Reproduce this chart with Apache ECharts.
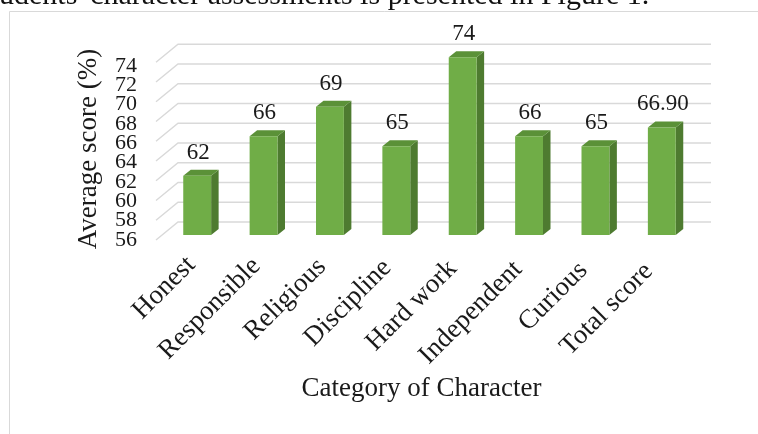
<!DOCTYPE html>
<html>
<head>
<meta charset="utf-8">
<script src="https://cdn.jsdelivr.net/npm/echarts@6/dist/echarts.min.js"></script>
<style>
  html, body { margin: 0; padding: 0; background: #fff; }
  #main { width: 758px; height: 434px; }
</style>
</head>
<body>
<div id="main"></div>
<script>
// data
const categories = ['Honest', 'Responsible', 'Religious', 'Discipline', 'Hard work', 'Independent', 'Curious', 'Total score'];
const scores = [62, 66, 69, 65, 74, 66, 65, 66.9];
const scoreLabels = ['62', '66', '69', '65', '74', '66', '65', '66.90'];
const yTicks = [56, 58, 60, 62, 64, 66, 68, 70, 72, 74];
const yMin = 56, yMax = 74, yStep = 2;

const serif = '"Liberation Serif", "Times New Roman", serif';
const textColor = '#1a1a1a';

// fake 3d look (pixels)
const depthX = 7.5, depthY = 6;
const wallFrontX = -8, wallFrontY = 5, wallBackX = 14, wallBackY = -13, wallRightX = 16;

const chart = echarts.init(document.getElementById('main'));

// back wall grid lines
function renderWall(params, api) {
  const cs = params.coordSys;
  const y = api.coord([0, api.value(1)])[1];
  return {
    type: 'polyline',
    shape: {
      points: [
        [cs.x + wallFrontX, y + wallFrontY],
        [cs.x + wallBackX, y + wallBackY],
        [cs.x + cs.width + wallRightX, y + wallBackY]
      ]
    },
    style: { stroke: '#d9d9d9', lineWidth: 1.4, fill: null }
  };
}

function renderBar(params, api) {
  const i = api.value(0);
  const top = api.coord([i, api.value(1)]);
  const base = api.coord([i, yMin]);
  const w = api.size([1, 0])[0] * 0.42;
  const x0 = top[0] - w / 2, x1 = top[0] + w / 2;
  const yt = top[1], yb = base[1];
  return {
    type: 'group',
    children: [
      { type: 'polygon', shape: { points: [[x1, yt], [x1 + depthX, yt - depthY], [x1 + depthX, yb - depthY], [x1, yb]] }, style: { fill: '#4e7b30' } },
      { type: 'polygon', shape: { points: [[x0, yt], [x0 + depthX, yt - depthY], [x1 + depthX, yt - depthY], [x1, yt]] }, style: { fill: '#5b9138' } },
      { type: 'rect', shape: { x: x0, y: yt, width: w, height: yb - yt }, style: { fill: '#70ad47' } },
      {
        type: 'text',
        style: {
          x: top[0] + 1, y: yt - 23,
          text: scoreLabels[params.dataIndex],
          fill: textColor, font: '23px ' + serif,
          align: 'center', verticalAlign: 'middle'
        }
      }
    ]
  };
}

// rotated category labels under the bars
function renderCatLabel(params, api) {
  const i = api.value(0);
  const p = api.coord([i, yMin]);
  return {
    type: 'text',
    x: p[0] - 6 - i, y: p[1] + 26 + 0.9 * i,
    rotation: Math.PI / 4,
    style: { text: categories[i], font: '27px ' + serif, fill: textColor, align: 'right', verticalAlign: 'middle' }
  };
}

// y tick labels (front edge)
function renderTick(params, api) {
  const cs = params.coordSys;
  const v = api.value(1);
  const y = api.coord([0, v])[1];
  return {
    type: 'text',
    style: { x: cs.x - 27, y: y, text: String(v), font: '22px ' + serif, fill: textColor, align: 'right', verticalAlign: 'middle' }
  };
}

const option = {
  animation: false,
  grid: [
    { left: 164, right: 63, top: 57.3, bottom: 199 },
    { left: 164, right: 63, top: 66, bottom: 194 }
  ],
  xAxis: [
    { type: 'category', gridIndex: 0, data: categories, show: false },
    { type: 'category', gridIndex: 1, data: categories, show: false }
  ],
  yAxis: [
    { type: 'value', gridIndex: 0, min: yMin, max: yMax, interval: yStep, show: false },
    { type: 'value', gridIndex: 1, min: yMin, max: yMax, interval: yStep, show: false }
  ],
  graphic: [
    { type: 'rect', shape: { x: 9.5, y: 11.5, width: 760, height: 430 }, style: { fill: null, stroke: '#d9d9d9', lineWidth: 1 } },
    {
      type: 'text', x: -21, y: -4,
      style: { text: "students' character assessments is presented in Figure 1.", font: '30px ' + serif, fill: '#111', verticalAlign: 'middle' }
    },
    {
      type: 'text', x: 89, y: 149, rotation: Math.PI / 2,
      style: { text: 'Average score (%)', font: '27px ' + serif, fill: textColor, align: 'center', verticalAlign: 'middle' }
    },
    {
      type: 'text', x: 421.5, y: 389,
      style: { text: 'Category of Character', font: '27px ' + serif, fill: textColor, align: 'center', verticalAlign: 'middle' }
    }
  ],
  series: [
    {
      type: 'custom', xAxisIndex: 0, yAxisIndex: 0, z: 1,
      renderItem: renderWall,
      data: yTicks.map(v => [0, v])
    },
    {
      type: 'custom', xAxisIndex: 0, yAxisIndex: 0, z: 2,
      renderItem: renderBar,
      encode: { x: 0, y: 1 },
      data: scores.map((v, i) => [i, v])
    },
    {
      type: 'custom', xAxisIndex: 0, yAxisIndex: 0, z: 3,
      renderItem: renderCatLabel,
      data: categories.map((c, i) => [i, yMin])
    },
    {
      type: 'custom', xAxisIndex: 1, yAxisIndex: 1, z: 3,
      renderItem: renderTick,
      data: yTicks.map(v => [0, v])
    }
  ]
};

chart.setOption(option);
</script>
</body>
</html>
